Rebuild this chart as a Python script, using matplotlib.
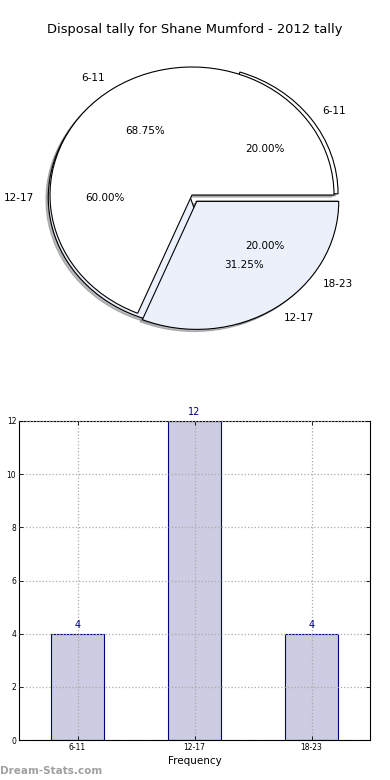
import matplotlib
matplotlib.use("Agg")
import matplotlib.pyplot as plt

# pie data (two tallies overlaid, as on the original)
pie_b_labels = ["6-11", "12-17", "18-23"]
pie_b_values = [4, 12, 4]
pie_a_labels = ["6-11", "12-17"]
pie_a_values = [68.75, 31.25]
pie_colors = ["white", "#ebf0fb"]

# bar data
bar_labels = ["6-11", "12-17", "18-23"]
bar_values = [4, 12, 4]

fig = plt.figure(figsize=(3.9, 7.8), dpi=100)
fig.text(0.5, 1 - 30 / 780, "Disposal tally for Shane Mumford - 2012 tally",
         ha="center", va="center", fontsize=9.4)

# ---- pie ----
ax1 = fig.add_axes([14.5 / 390, 1 - 355 / 780, 355 / 390, 320 / 780])
shadow = dict(ox=-0.012, oy=-0.012, shade=0.5)
ax1.pie(pie_b_values, labels=pie_b_labels, autopct="%1.2f%%",
        explode=[0.05, 0, 0.05], colors=pie_colors, shadow=shadow,
        center=(-0.012, -0.02),
        wedgeprops=dict(edgecolor="black", linewidth=0.8),
        textprops=dict(fontsize=7.5))
ax1.pie(pie_a_values, labels=pie_a_labels, autopct="%1.2f%%",
        explode=[0, 0.06], colors=pie_colors, shadow=shadow,
        wedgeprops=dict(edgecolor="black", linewidth=0.8),
        textprops=dict(fontsize=7.5))
ax1.set_aspect("auto")
ax1.set_xlim(-1.25, 1.25)
ax1.set_ylim(-1.25, 1.25)
ax1.axis("off")

# ---- bars ----
ax2 = fig.add_axes([19 / 390, 40 / 780, 351 / 390, 319 / 780])
x = range(len(bar_values))
ax2.bar(x, bar_values, width=0.45, color="#cccce2",
        edgecolor="#000080", linewidth=0.8, zorder=2)
for xi, v in zip(x, bar_values):
    ax2.text(xi, v + 0.15, str(v), ha="center", va="bottom",
             color="#000080", fontsize=7)
ax2.set_xlim(-0.5, 2.5)
ax2.set_ylim(0, 12)
ax2.set_xticks(list(x))
ax2.set_xticklabels(bar_labels)
ax2.set_yticks(range(0, 13, 2))
ax2.tick_params(labelsize=5.5, direction="in", top=True, right=True,
                length=3, width=0.6, pad=2)
ax2.grid(True, linestyle=":", color="#aaaaaa", linewidth=0.9, zorder=3)
ax2.set_axisbelow(False)
for s in ax2.spines.values():
    s.set_linewidth(0.8)
ax2.set_xlabel("Frequency", fontsize=7.5, labelpad=3)
ax2.set_ylabel("Stat Interval", fontsize=7, labelpad=10)

fig.text(0.0, 1 - 771 / 780, "Dream-Stats.com", ha="left", va="center",
         fontsize=7.5, color="#a0a0a0", fontweight="bold")

fig.savefig("out.png", dpi=100)
